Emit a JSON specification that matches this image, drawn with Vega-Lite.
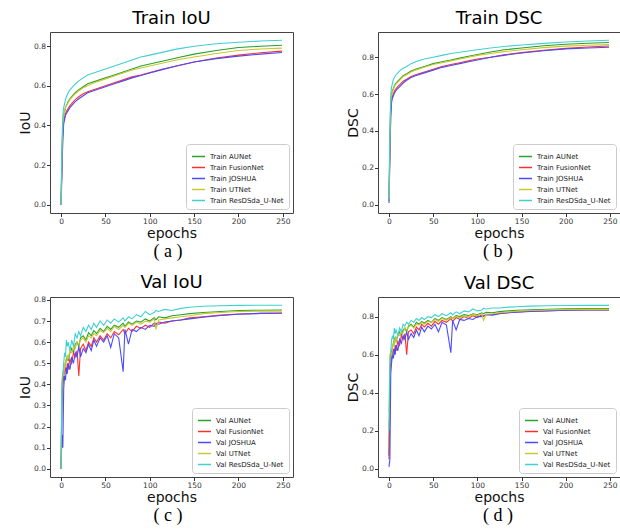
{
  "$schema": "https://vega.github.io/schema/vega-lite/v6.json",
  "padding": {"left": 18, "top": 9, "right": 0, "bottom": 0},
  "config": {
    "font": "DejaVu Sans",
    "view": {"stroke": "#444444", "strokeWidth": 1},
    "axis": {"domain": false, "grid": false, "tickColor": "#333333", "tickSize": 3.5, "labelFontSize": 7.5, "labelColor": "#333333", "labelPadding": 1, "titleFontSize": 14, "titleFontWeight": "normal", "titleColor": "#111111", "titlePadding": 1},
    "title": {"fontSize": 18, "fontWeight": "normal", "color": "#000000", "offset": 4},
    "legend": {"orient": "bottom-right", "offset": 4, "fillColor": "white", "strokeColor": "#cccccc", "padding": 5, "cornerRadius": 3, "labelFontSize": 7, "labelColor": "#222222", "symbolType": "stroke", "symbolSize": 169, "symbolStrokeWidth": 1.5, "rowPadding": 0, "labelOffset": 4, "title": null}
  },
  "data": {"values": [
{"p":"a","m":"AUNet","e":0,"v":0},{"p":"a","m":"AUNet","e":1,"v":0.25},{"p":"a","m":"AUNet","e":2,"v":0.40},{"p":"a","m":"AUNet","e":3,"v":0.45},{"p":"a","m":"AUNet","e":4,"v":0.47},{"p":"a","m":"AUNet","e":5,"v":0.49},{"p":"a","m":"AUNet","e":6,"v":0.50},{"p":"a","m":"AUNet","e":8,"v":0.52},{"p":"a","m":"AUNet","e":10,"v":0.535},{"p":"a","m":"AUNet","e":13,"v":0.55},{"p":"a","m":"AUNet","e":16,"v":0.565},{"p":"a","m":"AUNet","e":20,"v":0.58},{"p":"a","m":"AUNet","e":25,"v":0.595},{"p":"a","m":"AUNet","e":30,"v":0.61},{"p":"a","m":"AUNet","e":40,"v":0.625},{"p":"a","m":"AUNet","e":50,"v":0.64},{"p":"a","m":"AUNet","e":60,"v":0.655},{"p":"a","m":"AUNet","e":70,"v":0.67},{"p":"a","m":"AUNet","e":80,"v":0.685},{"p":"a","m":"AUNet","e":90,"v":0.70},{"p":"a","m":"AUNet","e":100,"v":0.71},{"p":"a","m":"AUNet","e":115,"v":0.725},{"p":"a","m":"AUNet","e":130,"v":0.74},{"p":"a","m":"AUNet","e":150,"v":0.76},{"p":"a","m":"AUNet","e":175,"v":0.778},{"p":"a","m":"AUNet","e":200,"v":0.793},{"p":"a","m":"AUNet","e":225,"v":0.80},{"p":"a","m":"AUNet","e":249,"v":0.805},
{"p":"a","m":"FusionNet","e":0,"v":0},{"p":"a","m":"FusionNet","e":1,"v":0.2},{"p":"a","m":"FusionNet","e":2,"v":0.36},{"p":"a","m":"FusionNet","e":3,"v":0.42},{"p":"a","m":"FusionNet","e":4,"v":0.44},{"p":"a","m":"FusionNet","e":5,"v":0.46},{"p":"a","m":"FusionNet","e":6,"v":0.47},{"p":"a","m":"FusionNet","e":8,"v":0.485},{"p":"a","m":"FusionNet","e":10,"v":0.50},{"p":"a","m":"FusionNet","e":13,"v":0.515},{"p":"a","m":"FusionNet","e":16,"v":0.53},{"p":"a","m":"FusionNet","e":20,"v":0.545},{"p":"a","m":"FusionNet","e":25,"v":0.56},{"p":"a","m":"FusionNet","e":30,"v":0.57},{"p":"a","m":"FusionNet","e":40,"v":0.585},{"p":"a","m":"FusionNet","e":50,"v":0.60},{"p":"a","m":"FusionNet","e":60,"v":0.615},{"p":"a","m":"FusionNet","e":70,"v":0.63},{"p":"a","m":"FusionNet","e":80,"v":0.645},{"p":"a","m":"FusionNet","e":90,"v":0.655},{"p":"a","m":"FusionNet","e":100,"v":0.667},{"p":"a","m":"FusionNet","e":115,"v":0.685},{"p":"a","m":"FusionNet","e":130,"v":0.70},{"p":"a","m":"FusionNet","e":150,"v":0.72},{"p":"a","m":"FusionNet","e":175,"v":0.74},{"p":"a","m":"FusionNet","e":200,"v":0.755},{"p":"a","m":"FusionNet","e":225,"v":0.767},{"p":"a","m":"FusionNet","e":249,"v":0.775},
{"p":"a","m":"JOSHUA","e":0,"v":0},{"p":"a","m":"JOSHUA","e":1,"v":0.15},{"p":"a","m":"JOSHUA","e":2,"v":0.33},{"p":"a","m":"JOSHUA","e":3,"v":0.41},{"p":"a","m":"JOSHUA","e":4,"v":0.43},{"p":"a","m":"JOSHUA","e":5,"v":0.45},{"p":"a","m":"JOSHUA","e":6,"v":0.46},{"p":"a","m":"JOSHUA","e":8,"v":0.475},{"p":"a","m":"JOSHUA","e":10,"v":0.49},{"p":"a","m":"JOSHUA","e":13,"v":0.505},{"p":"a","m":"JOSHUA","e":16,"v":0.52},{"p":"a","m":"JOSHUA","e":20,"v":0.535},{"p":"a","m":"JOSHUA","e":25,"v":0.55},{"p":"a","m":"JOSHUA","e":30,"v":0.565},{"p":"a","m":"JOSHUA","e":40,"v":0.58},{"p":"a","m":"JOSHUA","e":50,"v":0.595},{"p":"a","m":"JOSHUA","e":60,"v":0.61},{"p":"a","m":"JOSHUA","e":70,"v":0.625},{"p":"a","m":"JOSHUA","e":80,"v":0.64},{"p":"a","m":"JOSHUA","e":90,"v":0.652},{"p":"a","m":"JOSHUA","e":100,"v":0.665},{"p":"a","m":"JOSHUA","e":115,"v":0.683},{"p":"a","m":"JOSHUA","e":130,"v":0.70},{"p":"a","m":"JOSHUA","e":150,"v":0.72},{"p":"a","m":"JOSHUA","e":175,"v":0.737},{"p":"a","m":"JOSHUA","e":200,"v":0.75},{"p":"a","m":"JOSHUA","e":225,"v":0.76},{"p":"a","m":"JOSHUA","e":249,"v":0.768},
{"p":"a","m":"UTNet","e":0,"v":0},{"p":"a","m":"UTNet","e":1,"v":0.28},{"p":"a","m":"UTNet","e":2,"v":0.41},{"p":"a","m":"UTNet","e":3,"v":0.45},{"p":"a","m":"UTNet","e":4,"v":0.47},{"p":"a","m":"UTNet","e":5,"v":0.49},{"p":"a","m":"UTNet","e":6,"v":0.50},{"p":"a","m":"UTNet","e":8,"v":0.515},{"p":"a","m":"UTNet","e":10,"v":0.53},{"p":"a","m":"UTNet","e":13,"v":0.545},{"p":"a","m":"UTNet","e":16,"v":0.56},{"p":"a","m":"UTNet","e":20,"v":0.575},{"p":"a","m":"UTNet","e":25,"v":0.59},{"p":"a","m":"UTNet","e":30,"v":0.60},{"p":"a","m":"UTNet","e":40,"v":0.62},{"p":"a","m":"UTNet","e":50,"v":0.635},{"p":"a","m":"UTNet","e":60,"v":0.65},{"p":"a","m":"UTNet","e":70,"v":0.665},{"p":"a","m":"UTNet","e":80,"v":0.68},{"p":"a","m":"UTNet","e":90,"v":0.69},{"p":"a","m":"UTNet","e":100,"v":0.70},{"p":"a","m":"UTNet","e":115,"v":0.715},{"p":"a","m":"UTNet","e":130,"v":0.73},{"p":"a","m":"UTNet","e":150,"v":0.745},{"p":"a","m":"UTNet","e":175,"v":0.763},{"p":"a","m":"UTNet","e":200,"v":0.778},{"p":"a","m":"UTNet","e":225,"v":0.786},{"p":"a","m":"UTNet","e":249,"v":0.79},
{"p":"a","m":"ResDSda_U-Net","e":0,"v":0},{"p":"a","m":"ResDSda_U-Net","e":1,"v":0.3},{"p":"a","m":"ResDSda_U-Net","e":2,"v":0.45},{"p":"a","m":"ResDSda_U-Net","e":3,"v":0.49},{"p":"a","m":"ResDSda_U-Net","e":4,"v":0.51},{"p":"a","m":"ResDSda_U-Net","e":5,"v":0.53},{"p":"a","m":"ResDSda_U-Net","e":6,"v":0.545},{"p":"a","m":"ResDSda_U-Net","e":8,"v":0.565},{"p":"a","m":"ResDSda_U-Net","e":10,"v":0.58},{"p":"a","m":"ResDSda_U-Net","e":13,"v":0.595},{"p":"a","m":"ResDSda_U-Net","e":16,"v":0.61},{"p":"a","m":"ResDSda_U-Net","e":20,"v":0.625},{"p":"a","m":"ResDSda_U-Net","e":25,"v":0.64},{"p":"a","m":"ResDSda_U-Net","e":30,"v":0.655},{"p":"a","m":"ResDSda_U-Net","e":40,"v":0.67},{"p":"a","m":"ResDSda_U-Net","e":50,"v":0.685},{"p":"a","m":"ResDSda_U-Net","e":60,"v":0.70},{"p":"a","m":"ResDSda_U-Net","e":70,"v":0.715},{"p":"a","m":"ResDSda_U-Net","e":80,"v":0.73},{"p":"a","m":"ResDSda_U-Net","e":90,"v":0.745},{"p":"a","m":"ResDSda_U-Net","e":100,"v":0.755},{"p":"a","m":"ResDSda_U-Net","e":115,"v":0.77},{"p":"a","m":"ResDSda_U-Net","e":130,"v":0.785},{"p":"a","m":"ResDSda_U-Net","e":150,"v":0.80},{"p":"a","m":"ResDSda_U-Net","e":175,"v":0.812},{"p":"a","m":"ResDSda_U-Net","e":200,"v":0.82},{"p":"a","m":"ResDSda_U-Net","e":225,"v":0.826},{"p":"a","m":"ResDSda_U-Net","e":249,"v":0.83},
{"p":"b","m":"AUNet","e":0,"v":0.02},{"p":"b","m":"AUNet","e":1,"v":0.35},{"p":"b","m":"AUNet","e":2,"v":0.55},{"p":"b","m":"AUNet","e":3,"v":0.60},{"p":"b","m":"AUNet","e":4,"v":0.62},{"p":"b","m":"AUNet","e":5,"v":0.63},{"p":"b","m":"AUNet","e":6,"v":0.645},{"p":"b","m":"AUNet","e":8,"v":0.66},{"p":"b","m":"AUNet","e":10,"v":0.67},{"p":"b","m":"AUNet","e":13,"v":0.685},{"p":"b","m":"AUNet","e":16,"v":0.70},{"p":"b","m":"AUNet","e":20,"v":0.71},{"p":"b","m":"AUNet","e":25,"v":0.725},{"p":"b","m":"AUNet","e":30,"v":0.735},{"p":"b","m":"AUNet","e":40,"v":0.75},{"p":"b","m":"AUNet","e":50,"v":0.765},{"p":"b","m":"AUNet","e":60,"v":0.775},{"p":"b","m":"AUNet","e":70,"v":0.785},{"p":"b","m":"AUNet","e":80,"v":0.795},{"p":"b","m":"AUNet","e":90,"v":0.805},{"p":"b","m":"AUNet","e":100,"v":0.815},{"p":"b","m":"AUNet","e":115,"v":0.828},{"p":"b","m":"AUNet","e":130,"v":0.84},{"p":"b","m":"AUNet","e":150,"v":0.85},{"p":"b","m":"AUNet","e":175,"v":0.862},{"p":"b","m":"AUNet","e":200,"v":0.87},{"p":"b","m":"AUNet","e":225,"v":0.876},{"p":"b","m":"AUNet","e":249,"v":0.88},
{"p":"b","m":"FusionNet","e":0,"v":0.02},{"p":"b","m":"FusionNet","e":1,"v":0.3},{"p":"b","m":"FusionNet","e":2,"v":0.5},{"p":"b","m":"FusionNet","e":3,"v":0.57},{"p":"b","m":"FusionNet","e":4,"v":0.59},{"p":"b","m":"FusionNet","e":5,"v":0.60},{"p":"b","m":"FusionNet","e":6,"v":0.615},{"p":"b","m":"FusionNet","e":8,"v":0.63},{"p":"b","m":"FusionNet","e":10,"v":0.64},{"p":"b","m":"FusionNet","e":13,"v":0.655},{"p":"b","m":"FusionNet","e":16,"v":0.67},{"p":"b","m":"FusionNet","e":20,"v":0.68},{"p":"b","m":"FusionNet","e":25,"v":0.695},{"p":"b","m":"FusionNet","e":30,"v":0.705},{"p":"b","m":"FusionNet","e":40,"v":0.72},{"p":"b","m":"FusionNet","e":50,"v":0.735},{"p":"b","m":"FusionNet","e":60,"v":0.75},{"p":"b","m":"FusionNet","e":70,"v":0.76},{"p":"b","m":"FusionNet","e":80,"v":0.77},{"p":"b","m":"FusionNet","e":90,"v":0.78},{"p":"b","m":"FusionNet","e":100,"v":0.79},{"p":"b","m":"FusionNet","e":115,"v":0.80},{"p":"b","m":"FusionNet","e":130,"v":0.813},{"p":"b","m":"FusionNet","e":150,"v":0.825},{"p":"b","m":"FusionNet","e":175,"v":0.838},{"p":"b","m":"FusionNet","e":200,"v":0.848},{"p":"b","m":"FusionNet","e":225,"v":0.855},{"p":"b","m":"FusionNet","e":249,"v":0.861},
{"p":"b","m":"JOSHUA","e":0,"v":0.01},{"p":"b","m":"JOSHUA","e":1,"v":0.25},{"p":"b","m":"JOSHUA","e":2,"v":0.48},{"p":"b","m":"JOSHUA","e":3,"v":0.56},{"p":"b","m":"JOSHUA","e":4,"v":0.58},{"p":"b","m":"JOSHUA","e":5,"v":0.59},{"p":"b","m":"JOSHUA","e":6,"v":0.605},{"p":"b","m":"JOSHUA","e":8,"v":0.62},{"p":"b","m":"JOSHUA","e":10,"v":0.63},{"p":"b","m":"JOSHUA","e":13,"v":0.645},{"p":"b","m":"JOSHUA","e":16,"v":0.66},{"p":"b","m":"JOSHUA","e":20,"v":0.675},{"p":"b","m":"JOSHUA","e":25,"v":0.69},{"p":"b","m":"JOSHUA","e":30,"v":0.70},{"p":"b","m":"JOSHUA","e":40,"v":0.715},{"p":"b","m":"JOSHUA","e":50,"v":0.73},{"p":"b","m":"JOSHUA","e":60,"v":0.745},{"p":"b","m":"JOSHUA","e":70,"v":0.755},{"p":"b","m":"JOSHUA","e":80,"v":0.765},{"p":"b","m":"JOSHUA","e":90,"v":0.775},{"p":"b","m":"JOSHUA","e":100,"v":0.785},{"p":"b","m":"JOSHUA","e":115,"v":0.80},{"p":"b","m":"JOSHUA","e":130,"v":0.81},{"p":"b","m":"JOSHUA","e":150,"v":0.823},{"p":"b","m":"JOSHUA","e":175,"v":0.835},{"p":"b","m":"JOSHUA","e":200,"v":0.845},{"p":"b","m":"JOSHUA","e":225,"v":0.85},{"p":"b","m":"JOSHUA","e":249,"v":0.854},
{"p":"b","m":"UTNet","e":0,"v":0.03},{"p":"b","m":"UTNet","e":1,"v":0.38},{"p":"b","m":"UTNet","e":2,"v":0.56},{"p":"b","m":"UTNet","e":3,"v":0.60},{"p":"b","m":"UTNet","e":4,"v":0.615},{"p":"b","m":"UTNet","e":5,"v":0.625},{"p":"b","m":"UTNet","e":6,"v":0.64},{"p":"b","m":"UTNet","e":8,"v":0.655},{"p":"b","m":"UTNet","e":10,"v":0.665},{"p":"b","m":"UTNet","e":13,"v":0.68},{"p":"b","m":"UTNet","e":16,"v":0.695},{"p":"b","m":"UTNet","e":20,"v":0.705},{"p":"b","m":"UTNet","e":25,"v":0.72},{"p":"b","m":"UTNet","e":30,"v":0.73},{"p":"b","m":"UTNet","e":40,"v":0.745},{"p":"b","m":"UTNet","e":50,"v":0.76},{"p":"b","m":"UTNet","e":60,"v":0.77},{"p":"b","m":"UTNet","e":70,"v":0.78},{"p":"b","m":"UTNet","e":80,"v":0.79},{"p":"b","m":"UTNet","e":90,"v":0.80},{"p":"b","m":"UTNet","e":100,"v":0.81},{"p":"b","m":"UTNet","e":115,"v":0.82},{"p":"b","m":"UTNet","e":130,"v":0.83},{"p":"b","m":"UTNet","e":150,"v":0.84},{"p":"b","m":"UTNet","e":175,"v":0.852},{"p":"b","m":"UTNet","e":200,"v":0.86},{"p":"b","m":"UTNet","e":225,"v":0.865},{"p":"b","m":"UTNet","e":249,"v":0.868},
{"p":"b","m":"ResDSda_U-Net","e":0,"v":0.02},{"p":"b","m":"ResDSda_U-Net","e":1,"v":0.40},{"p":"b","m":"ResDSda_U-Net","e":2,"v":0.60},{"p":"b","m":"ResDSda_U-Net","e":3,"v":0.64},{"p":"b","m":"ResDSda_U-Net","e":4,"v":0.66},{"p":"b","m":"ResDSda_U-Net","e":5,"v":0.68},{"p":"b","m":"ResDSda_U-Net","e":6,"v":0.69},{"p":"b","m":"ResDSda_U-Net","e":8,"v":0.705},{"p":"b","m":"ResDSda_U-Net","e":10,"v":0.715},{"p":"b","m":"ResDSda_U-Net","e":13,"v":0.73},{"p":"b","m":"ResDSda_U-Net","e":16,"v":0.74},{"p":"b","m":"ResDSda_U-Net","e":20,"v":0.75},{"p":"b","m":"ResDSda_U-Net","e":25,"v":0.765},{"p":"b","m":"ResDSda_U-Net","e":30,"v":0.775},{"p":"b","m":"ResDSda_U-Net","e":40,"v":0.79},{"p":"b","m":"ResDSda_U-Net","e":50,"v":0.80},{"p":"b","m":"ResDSda_U-Net","e":60,"v":0.81},{"p":"b","m":"ResDSda_U-Net","e":70,"v":0.82},{"p":"b","m":"ResDSda_U-Net","e":80,"v":0.827},{"p":"b","m":"ResDSda_U-Net","e":90,"v":0.834},{"p":"b","m":"ResDSda_U-Net","e":100,"v":0.84},{"p":"b","m":"ResDSda_U-Net","e":115,"v":0.85},{"p":"b","m":"ResDSda_U-Net","e":130,"v":0.858},{"p":"b","m":"ResDSda_U-Net","e":150,"v":0.866},{"p":"b","m":"ResDSda_U-Net","e":175,"v":0.875},{"p":"b","m":"ResDSda_U-Net","e":200,"v":0.882},{"p":"b","m":"ResDSda_U-Net","e":225,"v":0.888},{"p":"b","m":"ResDSda_U-Net","e":249,"v":0.892},
{"p":"c","m":"AUNet","e":0,"v":0},{"p":"c","m":"AUNet","e":1,"v":0.30},{"p":"c","m":"AUNet","e":2,"v":0.42},{"p":"c","m":"AUNet","e":3,"v":0.46},{"p":"c","m":"AUNet","e":4,"v":0.48},{"p":"c","m":"AUNet","e":5,"v":0.50},{"p":"c","m":"AUNet","e":6,"v":0.52},{"p":"c","m":"AUNet","e":7,"v":0.53},{"p":"c","m":"AUNet","e":8,"v":0.51},{"p":"c","m":"AUNet","e":10,"v":0.55},{"p":"c","m":"AUNet","e":12,"v":0.57},{"p":"c","m":"AUNet","e":14,"v":0.55},{"p":"c","m":"AUNet","e":16,"v":0.59},{"p":"c","m":"AUNet","e":18,"v":0.60},{"p":"c","m":"AUNet","e":20,"v":0.58},{"p":"c","m":"AUNet","e":22,"v":0.62},{"p":"c","m":"AUNet","e":25,"v":0.63},{"p":"c","m":"AUNet","e":28,"v":0.61},{"p":"c","m":"AUNet","e":31,"v":0.645},{"p":"c","m":"AUNet","e":34,"v":0.63},{"p":"c","m":"AUNet","e":37,"v":0.655},{"p":"c","m":"AUNet","e":40,"v":0.64},{"p":"c","m":"AUNet","e":44,"v":0.665},{"p":"c","m":"AUNet","e":48,"v":0.65},{"p":"c","m":"AUNet","e":52,"v":0.675},{"p":"c","m":"AUNet","e":56,"v":0.66},{"p":"c","m":"AUNet","e":60,"v":0.68},{"p":"c","m":"AUNet","e":65,"v":0.67},{"p":"c","m":"AUNet","e":70,"v":0.69},{"p":"c","m":"AUNet","e":72,"v":0.675},{"p":"c","m":"AUNet","e":76,"v":0.695},{"p":"c","m":"AUNet","e":80,"v":0.685},{"p":"c","m":"AUNet","e":85,"v":0.70},{"p":"c","m":"AUNet","e":90,"v":0.695},{"p":"c","m":"AUNet","e":95,"v":0.71},{"p":"c","m":"AUNet","e":100,"v":0.70},{"p":"c","m":"AUNet","e":105,"v":0.715},{"p":"c","m":"AUNet","e":107,"v":0.705},{"p":"c","m":"AUNet","e":110,"v":0.72},{"p":"c","m":"AUNet","e":117,"v":0.715},{"p":"c","m":"AUNet","e":125,"v":0.725},{"p":"c","m":"AUNet","e":135,"v":0.73},{"p":"c","m":"AUNet","e":145,"v":0.735},{"p":"c","m":"AUNet","e":160,"v":0.74},{"p":"c","m":"AUNet","e":180,"v":0.745},{"p":"c","m":"AUNet","e":200,"v":0.75},{"p":"c","m":"AUNet","e":225,"v":0.751},{"p":"c","m":"AUNet","e":249,"v":0.752},
{"p":"c","m":"FusionNet","e":0,"v":0},{"p":"c","m":"FusionNet","e":1,"v":0.38},{"p":"c","m":"FusionNet","e":2,"v":0.40},{"p":"c","m":"FusionNet","e":3,"v":0.43},{"p":"c","m":"FusionNet","e":4,"v":0.46},{"p":"c","m":"FusionNet","e":5,"v":0.48},{"p":"c","m":"FusionNet","e":6,"v":0.45},{"p":"c","m":"FusionNet","e":7,"v":0.50},{"p":"c","m":"FusionNet","e":8,"v":0.47},{"p":"c","m":"FusionNet","e":10,"v":0.52},{"p":"c","m":"FusionNet","e":12,"v":0.50},{"p":"c","m":"FusionNet","e":14,"v":0.55},{"p":"c","m":"FusionNet","e":16,"v":0.53},{"p":"c","m":"FusionNet","e":18,"v":0.56},{"p":"c","m":"FusionNet","e":20,"v":0.44},{"p":"c","m":"FusionNet","e":22,"v":0.57},{"p":"c","m":"FusionNet","e":25,"v":0.59},{"p":"c","m":"FusionNet","e":28,"v":0.56},{"p":"c","m":"FusionNet","e":31,"v":0.60},{"p":"c","m":"FusionNet","e":34,"v":0.58},{"p":"c","m":"FusionNet","e":37,"v":0.62},{"p":"c","m":"FusionNet","e":40,"v":0.60},{"p":"c","m":"FusionNet","e":44,"v":0.63},{"p":"c","m":"FusionNet","e":48,"v":0.61},{"p":"c","m":"FusionNet","e":52,"v":0.64},{"p":"c","m":"FusionNet","e":56,"v":0.62},{"p":"c","m":"FusionNet","e":60,"v":0.65},{"p":"c","m":"FusionNet","e":65,"v":0.635},{"p":"c","m":"FusionNet","e":70,"v":0.66},{"p":"c","m":"FusionNet","e":72,"v":0.64},{"p":"c","m":"FusionNet","e":76,"v":0.665},{"p":"c","m":"FusionNet","e":80,"v":0.65},{"p":"c","m":"FusionNet","e":85,"v":0.675},{"p":"c","m":"FusionNet","e":90,"v":0.665},{"p":"c","m":"FusionNet","e":95,"v":0.68},{"p":"c","m":"FusionNet","e":100,"v":0.67},{"p":"c","m":"FusionNet","e":105,"v":0.69},{"p":"c","m":"FusionNet","e":107,"v":0.68},{"p":"c","m":"FusionNet","e":110,"v":0.695},{"p":"c","m":"FusionNet","e":117,"v":0.69},{"p":"c","m":"FusionNet","e":125,"v":0.70},{"p":"c","m":"FusionNet","e":135,"v":0.705},{"p":"c","m":"FusionNet","e":145,"v":0.715},{"p":"c","m":"FusionNet","e":160,"v":0.72},{"p":"c","m":"FusionNet","e":180,"v":0.728},{"p":"c","m":"FusionNet","e":200,"v":0.733},{"p":"c","m":"FusionNet","e":225,"v":0.736},{"p":"c","m":"FusionNet","e":249,"v":0.737},
{"p":"c","m":"JOSHUA","e":0,"v":0},{"p":"c","m":"JOSHUA","e":1,"v":0.16},{"p":"c","m":"JOSHUA","e":2,"v":0.10},{"p":"c","m":"JOSHUA","e":3,"v":0.38},{"p":"c","m":"JOSHUA","e":4,"v":0.44},{"p":"c","m":"JOSHUA","e":5,"v":0.42},{"p":"c","m":"JOSHUA","e":6,"v":0.48},{"p":"c","m":"JOSHUA","e":7,"v":0.45},{"p":"c","m":"JOSHUA","e":8,"v":0.50},{"p":"c","m":"JOSHUA","e":10,"v":0.47},{"p":"c","m":"JOSHUA","e":12,"v":0.53},{"p":"c","m":"JOSHUA","e":14,"v":0.50},{"p":"c","m":"JOSHUA","e":16,"v":0.55},{"p":"c","m":"JOSHUA","e":18,"v":0.53},{"p":"c","m":"JOSHUA","e":20,"v":0.58},{"p":"c","m":"JOSHUA","e":22,"v":0.53},{"p":"c","m":"JOSHUA","e":25,"v":0.57},{"p":"c","m":"JOSHUA","e":28,"v":0.55},{"p":"c","m":"JOSHUA","e":31,"v":0.59},{"p":"c","m":"JOSHUA","e":34,"v":0.56},{"p":"c","m":"JOSHUA","e":37,"v":0.61},{"p":"c","m":"JOSHUA","e":40,"v":0.58},{"p":"c","m":"JOSHUA","e":44,"v":0.62},{"p":"c","m":"JOSHUA","e":48,"v":0.60},{"p":"c","m":"JOSHUA","e":52,"v":0.63},{"p":"c","m":"JOSHUA","e":56,"v":0.575},{"p":"c","m":"JOSHUA","e":60,"v":0.64},{"p":"c","m":"JOSHUA","e":65,"v":0.62},{"p":"c","m":"JOSHUA","e":70,"v":0.46},{"p":"c","m":"JOSHUA","e":72,"v":0.66},{"p":"c","m":"JOSHUA","e":76,"v":0.59},{"p":"c","m":"JOSHUA","e":80,"v":0.66},{"p":"c","m":"JOSHUA","e":85,"v":0.65},{"p":"c","m":"JOSHUA","e":90,"v":0.67},{"p":"c","m":"JOSHUA","e":95,"v":0.66},{"p":"c","m":"JOSHUA","e":100,"v":0.68},{"p":"c","m":"JOSHUA","e":105,"v":0.675},{"p":"c","m":"JOSHUA","e":107,"v":0.69},{"p":"c","m":"JOSHUA","e":110,"v":0.685},{"p":"c","m":"JOSHUA","e":117,"v":0.695},{"p":"c","m":"JOSHUA","e":125,"v":0.70},{"p":"c","m":"JOSHUA","e":135,"v":0.705},{"p":"c","m":"JOSHUA","e":145,"v":0.71},{"p":"c","m":"JOSHUA","e":160,"v":0.718},{"p":"c","m":"JOSHUA","e":180,"v":0.726},{"p":"c","m":"JOSHUA","e":200,"v":0.732},{"p":"c","m":"JOSHUA","e":225,"v":0.736},{"p":"c","m":"JOSHUA","e":249,"v":0.738},
{"p":"c","m":"UTNet","e":0,"v":0},{"p":"c","m":"UTNet","e":1,"v":0.41},{"p":"c","m":"UTNet","e":2,"v":0.46},{"p":"c","m":"UTNet","e":3,"v":0.44},{"p":"c","m":"UTNet","e":4,"v":0.48},{"p":"c","m":"UTNet","e":5,"v":0.51},{"p":"c","m":"UTNet","e":6,"v":0.50},{"p":"c","m":"UTNet","e":7,"v":0.54},{"p":"c","m":"UTNet","e":8,"v":0.52},{"p":"c","m":"UTNet","e":10,"v":0.56},{"p":"c","m":"UTNet","e":12,"v":0.55},{"p":"c","m":"UTNet","e":14,"v":0.58},{"p":"c","m":"UTNet","e":16,"v":0.57},{"p":"c","m":"UTNet","e":18,"v":0.60},{"p":"c","m":"UTNet","e":20,"v":0.59},{"p":"c","m":"UTNet","e":22,"v":0.61},{"p":"c","m":"UTNet","e":25,"v":0.62},{"p":"c","m":"UTNet","e":28,"v":0.60},{"p":"c","m":"UTNet","e":31,"v":0.63},{"p":"c","m":"UTNet","e":34,"v":0.62},{"p":"c","m":"UTNet","e":37,"v":0.64},{"p":"c","m":"UTNet","e":40,"v":0.63},{"p":"c","m":"UTNet","e":44,"v":0.655},{"p":"c","m":"UTNet","e":48,"v":0.645},{"p":"c","m":"UTNet","e":52,"v":0.665},{"p":"c","m":"UTNet","e":56,"v":0.65},{"p":"c","m":"UTNet","e":60,"v":0.675},{"p":"c","m":"UTNet","e":65,"v":0.66},{"p":"c","m":"UTNet","e":70,"v":0.68},{"p":"c","m":"UTNet","e":72,"v":0.67},{"p":"c","m":"UTNet","e":76,"v":0.69},{"p":"c","m":"UTNet","e":80,"v":0.68},{"p":"c","m":"UTNet","e":85,"v":0.695},{"p":"c","m":"UTNet","e":90,"v":0.685},{"p":"c","m":"UTNet","e":95,"v":0.70},{"p":"c","m":"UTNet","e":100,"v":0.695},{"p":"c","m":"UTNet","e":105,"v":0.71},{"p":"c","m":"UTNet","e":107,"v":0.66},{"p":"c","m":"UTNet","e":110,"v":0.705},{"p":"c","m":"UTNet","e":117,"v":0.71},{"p":"c","m":"UTNet","e":125,"v":0.715},{"p":"c","m":"UTNet","e":135,"v":0.72},{"p":"c","m":"UTNet","e":145,"v":0.725},{"p":"c","m":"UTNet","e":160,"v":0.735},{"p":"c","m":"UTNet","e":180,"v":0.74},{"p":"c","m":"UTNet","e":200,"v":0.745},{"p":"c","m":"UTNet","e":225,"v":0.747},{"p":"c","m":"UTNet","e":249,"v":0.747},
{"p":"c","m":"ResDSda_U-Net","e":0,"v":0},{"p":"c","m":"ResDSda_U-Net","e":1,"v":0.40},{"p":"c","m":"ResDSda_U-Net","e":2,"v":0.45},{"p":"c","m":"ResDSda_U-Net","e":3,"v":0.50},{"p":"c","m":"ResDSda_U-Net","e":4,"v":0.55},{"p":"c","m":"ResDSda_U-Net","e":5,"v":0.53},{"p":"c","m":"ResDSda_U-Net","e":6,"v":0.61},{"p":"c","m":"ResDSda_U-Net","e":7,"v":0.58},{"p":"c","m":"ResDSda_U-Net","e":8,"v":0.60},{"p":"c","m":"ResDSda_U-Net","e":10,"v":0.56},{"p":"c","m":"ResDSda_U-Net","e":12,"v":0.61},{"p":"c","m":"ResDSda_U-Net","e":14,"v":0.58},{"p":"c","m":"ResDSda_U-Net","e":16,"v":0.64},{"p":"c","m":"ResDSda_U-Net","e":18,"v":0.62},{"p":"c","m":"ResDSda_U-Net","e":20,"v":0.65},{"p":"c","m":"ResDSda_U-Net","e":22,"v":0.63},{"p":"c","m":"ResDSda_U-Net","e":25,"v":0.67},{"p":"c","m":"ResDSda_U-Net","e":28,"v":0.65},{"p":"c","m":"ResDSda_U-Net","e":31,"v":0.68},{"p":"c","m":"ResDSda_U-Net","e":34,"v":0.66},{"p":"c","m":"ResDSda_U-Net","e":37,"v":0.69},{"p":"c","m":"ResDSda_U-Net","e":40,"v":0.67},{"p":"c","m":"ResDSda_U-Net","e":44,"v":0.70},{"p":"c","m":"ResDSda_U-Net","e":48,"v":0.68},{"p":"c","m":"ResDSda_U-Net","e":52,"v":0.705},{"p":"c","m":"ResDSda_U-Net","e":56,"v":0.69},{"p":"c","m":"ResDSda_U-Net","e":60,"v":0.71},{"p":"c","m":"ResDSda_U-Net","e":65,"v":0.695},{"p":"c","m":"ResDSda_U-Net","e":70,"v":0.715},{"p":"c","m":"ResDSda_U-Net","e":72,"v":0.70},{"p":"c","m":"ResDSda_U-Net","e":76,"v":0.72},{"p":"c","m":"ResDSda_U-Net","e":80,"v":0.71},{"p":"c","m":"ResDSda_U-Net","e":85,"v":0.73},{"p":"c","m":"ResDSda_U-Net","e":90,"v":0.72},{"p":"c","m":"ResDSda_U-Net","e":95,"v":0.745},{"p":"c","m":"ResDSda_U-Net","e":100,"v":0.73},{"p":"c","m":"ResDSda_U-Net","e":105,"v":0.74},{"p":"c","m":"ResDSda_U-Net","e":107,"v":0.75},{"p":"c","m":"ResDSda_U-Net","e":110,"v":0.745},{"p":"c","m":"ResDSda_U-Net","e":117,"v":0.755},{"p":"c","m":"ResDSda_U-Net","e":125,"v":0.75},{"p":"c","m":"ResDSda_U-Net","e":135,"v":0.76},{"p":"c","m":"ResDSda_U-Net","e":145,"v":0.765},{"p":"c","m":"ResDSda_U-Net","e":160,"v":0.77},{"p":"c","m":"ResDSda_U-Net","e":180,"v":0.772},{"p":"c","m":"ResDSda_U-Net","e":200,"v":0.774},{"p":"c","m":"ResDSda_U-Net","e":225,"v":0.775},{"p":"c","m":"ResDSda_U-Net","e":249,"v":0.775},
{"p":"d","m":"AUNet","e":0,"v":0.07},{"p":"d","m":"AUNet","e":1,"v":0.45},{"p":"d","m":"AUNet","e":2,"v":0.58},{"p":"d","m":"AUNet","e":3,"v":0.62},{"p":"d","m":"AUNet","e":4,"v":0.64},{"p":"d","m":"AUNet","e":5,"v":0.66},{"p":"d","m":"AUNet","e":6,"v":0.68},{"p":"d","m":"AUNet","e":7,"v":0.69},{"p":"d","m":"AUNet","e":8,"v":0.67},{"p":"d","m":"AUNet","e":10,"v":0.70},{"p":"d","m":"AUNet","e":12,"v":0.72},{"p":"d","m":"AUNet","e":14,"v":0.70},{"p":"d","m":"AUNet","e":16,"v":0.73},{"p":"d","m":"AUNet","e":18,"v":0.74},{"p":"d","m":"AUNet","e":20,"v":0.72},{"p":"d","m":"AUNet","e":22,"v":0.75},{"p":"d","m":"AUNet","e":25,"v":0.76},{"p":"d","m":"AUNet","e":28,"v":0.745},{"p":"d","m":"AUNet","e":31,"v":0.77},{"p":"d","m":"AUNet","e":34,"v":0.76},{"p":"d","m":"AUNet","e":37,"v":0.775},{"p":"d","m":"AUNet","e":40,"v":0.765},{"p":"d","m":"AUNet","e":44,"v":0.78},{"p":"d","m":"AUNet","e":48,"v":0.77},{"p":"d","m":"AUNet","e":52,"v":0.79},{"p":"d","m":"AUNet","e":56,"v":0.78},{"p":"d","m":"AUNet","e":60,"v":0.795},{"p":"d","m":"AUNet","e":65,"v":0.785},{"p":"d","m":"AUNet","e":70,"v":0.80},{"p":"d","m":"AUNet","e":72,"v":0.79},{"p":"d","m":"AUNet","e":76,"v":0.805},{"p":"d","m":"AUNet","e":80,"v":0.80},{"p":"d","m":"AUNet","e":85,"v":0.81},{"p":"d","m":"AUNet","e":90,"v":0.805},{"p":"d","m":"AUNet","e":95,"v":0.815},{"p":"d","m":"AUNet","e":100,"v":0.81},{"p":"d","m":"AUNet","e":105,"v":0.82},{"p":"d","m":"AUNet","e":107,"v":0.815},{"p":"d","m":"AUNet","e":110,"v":0.823},{"p":"d","m":"AUNet","e":117,"v":0.82},{"p":"d","m":"AUNet","e":125,"v":0.826},{"p":"d","m":"AUNet","e":135,"v":0.83},{"p":"d","m":"AUNet","e":145,"v":0.833},{"p":"d","m":"AUNet","e":160,"v":0.836},{"p":"d","m":"AUNet","e":180,"v":0.839},{"p":"d","m":"AUNet","e":200,"v":0.841},{"p":"d","m":"AUNet","e":225,"v":0.842},{"p":"d","m":"AUNet","e":249,"v":0.842},
{"p":"d","m":"FusionNet","e":0,"v":0.05},{"p":"d","m":"FusionNet","e":1,"v":0.50},{"p":"d","m":"FusionNet","e":2,"v":0.55},{"p":"d","m":"FusionNet","e":3,"v":0.58},{"p":"d","m":"FusionNet","e":4,"v":0.61},{"p":"d","m":"FusionNet","e":5,"v":0.63},{"p":"d","m":"FusionNet","e":6,"v":0.60},{"p":"d","m":"FusionNet","e":7,"v":0.65},{"p":"d","m":"FusionNet","e":8,"v":0.62},{"p":"d","m":"FusionNet","e":10,"v":0.67},{"p":"d","m":"FusionNet","e":12,"v":0.65},{"p":"d","m":"FusionNet","e":14,"v":0.70},{"p":"d","m":"FusionNet","e":16,"v":0.68},{"p":"d","m":"FusionNet","e":18,"v":0.71},{"p":"d","m":"FusionNet","e":20,"v":0.60},{"p":"d","m":"FusionNet","e":22,"v":0.72},{"p":"d","m":"FusionNet","e":25,"v":0.73},{"p":"d","m":"FusionNet","e":28,"v":0.71},{"p":"d","m":"FusionNet","e":31,"v":0.745},{"p":"d","m":"FusionNet","e":34,"v":0.73},{"p":"d","m":"FusionNet","e":37,"v":0.76},{"p":"d","m":"FusionNet","e":40,"v":0.745},{"p":"d","m":"FusionNet","e":44,"v":0.765},{"p":"d","m":"FusionNet","e":48,"v":0.75},{"p":"d","m":"FusionNet","e":52,"v":0.775},{"p":"d","m":"FusionNet","e":56,"v":0.76},{"p":"d","m":"FusionNet","e":60,"v":0.78},{"p":"d","m":"FusionNet","e":65,"v":0.77},{"p":"d","m":"FusionNet","e":70,"v":0.79},{"p":"d","m":"FusionNet","e":72,"v":0.775},{"p":"d","m":"FusionNet","e":76,"v":0.795},{"p":"d","m":"FusionNet","e":80,"v":0.785},{"p":"d","m":"FusionNet","e":85,"v":0.80},{"p":"d","m":"FusionNet","e":90,"v":0.79},{"p":"d","m":"FusionNet","e":95,"v":0.805},{"p":"d","m":"FusionNet","e":100,"v":0.795},{"p":"d","m":"FusionNet","e":105,"v":0.81},{"p":"d","m":"FusionNet","e":107,"v":0.80},{"p":"d","m":"FusionNet","e":110,"v":0.812},{"p":"d","m":"FusionNet","e":117,"v":0.81},{"p":"d","m":"FusionNet","e":125,"v":0.817},{"p":"d","m":"FusionNet","e":135,"v":0.82},{"p":"d","m":"FusionNet","e":145,"v":0.825},{"p":"d","m":"FusionNet","e":160,"v":0.828},{"p":"d","m":"FusionNet","e":180,"v":0.831},{"p":"d","m":"FusionNet","e":200,"v":0.833},{"p":"d","m":"FusionNet","e":225,"v":0.835},{"p":"d","m":"FusionNet","e":249,"v":0.835},
{"p":"d","m":"JOSHUA","e":0,"v":0.01},{"p":"d","m":"JOSHUA","e":1,"v":0.05},{"p":"d","m":"JOSHUA","e":2,"v":0.50},{"p":"d","m":"JOSHUA","e":3,"v":0.56},{"p":"d","m":"JOSHUA","e":4,"v":0.60},{"p":"d","m":"JOSHUA","e":5,"v":0.58},{"p":"d","m":"JOSHUA","e":6,"v":0.63},{"p":"d","m":"JOSHUA","e":7,"v":0.60},{"p":"d","m":"JOSHUA","e":8,"v":0.65},{"p":"d","m":"JOSHUA","e":10,"v":0.62},{"p":"d","m":"JOSHUA","e":12,"v":0.68},{"p":"d","m":"JOSHUA","e":14,"v":0.66},{"p":"d","m":"JOSHUA","e":16,"v":0.70},{"p":"d","m":"JOSHUA","e":18,"v":0.68},{"p":"d","m":"JOSHUA","e":20,"v":0.72},{"p":"d","m":"JOSHUA","e":22,"v":0.68},{"p":"d","m":"JOSHUA","e":25,"v":0.71},{"p":"d","m":"JOSHUA","e":28,"v":0.69},{"p":"d","m":"JOSHUA","e":31,"v":0.73},{"p":"d","m":"JOSHUA","e":34,"v":0.70},{"p":"d","m":"JOSHUA","e":37,"v":0.745},{"p":"d","m":"JOSHUA","e":40,"v":0.72},{"p":"d","m":"JOSHUA","e":44,"v":0.75},{"p":"d","m":"JOSHUA","e":48,"v":0.735},{"p":"d","m":"JOSHUA","e":52,"v":0.76},{"p":"d","m":"JOSHUA","e":56,"v":0.72},{"p":"d","m":"JOSHUA","e":60,"v":0.77},{"p":"d","m":"JOSHUA","e":65,"v":0.755},{"p":"d","m":"JOSHUA","e":70,"v":0.61},{"p":"d","m":"JOSHUA","e":72,"v":0.78},{"p":"d","m":"JOSHUA","e":76,"v":0.73},{"p":"d","m":"JOSHUA","e":80,"v":0.785},{"p":"d","m":"JOSHUA","e":85,"v":0.78},{"p":"d","m":"JOSHUA","e":90,"v":0.79},{"p":"d","m":"JOSHUA","e":95,"v":0.785},{"p":"d","m":"JOSHUA","e":100,"v":0.80},{"p":"d","m":"JOSHUA","e":105,"v":0.80},{"p":"d","m":"JOSHUA","e":107,"v":0.805},{"p":"d","m":"JOSHUA","e":110,"v":0.81},{"p":"d","m":"JOSHUA","e":117,"v":0.808},{"p":"d","m":"JOSHUA","e":125,"v":0.815},{"p":"d","m":"JOSHUA","e":135,"v":0.82},{"p":"d","m":"JOSHUA","e":145,"v":0.823},{"p":"d","m":"JOSHUA","e":160,"v":0.827},{"p":"d","m":"JOSHUA","e":180,"v":0.83},{"p":"d","m":"JOSHUA","e":200,"v":0.833},{"p":"d","m":"JOSHUA","e":225,"v":0.835},{"p":"d","m":"JOSHUA","e":249,"v":0.835},
{"p":"d","m":"UTNet","e":0,"v":0.3},{"p":"d","m":"UTNet","e":1,"v":0.60},{"p":"d","m":"UTNet","e":2,"v":0.61},{"p":"d","m":"UTNet","e":3,"v":0.60},{"p":"d","m":"UTNet","e":4,"v":0.64},{"p":"d","m":"UTNet","e":5,"v":0.66},{"p":"d","m":"UTNet","e":6,"v":0.65},{"p":"d","m":"UTNet","e":7,"v":0.69},{"p":"d","m":"UTNet","e":8,"v":0.67},{"p":"d","m":"UTNet","e":10,"v":0.71},{"p":"d","m":"UTNet","e":12,"v":0.70},{"p":"d","m":"UTNet","e":14,"v":0.72},{"p":"d","m":"UTNet","e":16,"v":0.715},{"p":"d","m":"UTNet","e":18,"v":0.74},{"p":"d","m":"UTNet","e":20,"v":0.73},{"p":"d","m":"UTNet","e":22,"v":0.745},{"p":"d","m":"UTNet","e":25,"v":0.755},{"p":"d","m":"UTNet","e":28,"v":0.74},{"p":"d","m":"UTNet","e":31,"v":0.76},{"p":"d","m":"UTNet","e":34,"v":0.755},{"p":"d","m":"UTNet","e":37,"v":0.77},{"p":"d","m":"UTNet","e":40,"v":0.76},{"p":"d","m":"UTNet","e":44,"v":0.775},{"p":"d","m":"UTNet","e":48,"v":0.77},{"p":"d","m":"UTNet","e":52,"v":0.785},{"p":"d","m":"UTNet","e":56,"v":0.775},{"p":"d","m":"UTNet","e":60,"v":0.79},{"p":"d","m":"UTNet","e":65,"v":0.78},{"p":"d","m":"UTNet","e":70,"v":0.795},{"p":"d","m":"UTNet","e":72,"v":0.79},{"p":"d","m":"UTNet","e":76,"v":0.80},{"p":"d","m":"UTNet","e":80,"v":0.795},{"p":"d","m":"UTNet","e":85,"v":0.805},{"p":"d","m":"UTNet","e":90,"v":0.80},{"p":"d","m":"UTNet","e":95,"v":0.81},{"p":"d","m":"UTNet","e":100,"v":0.805},{"p":"d","m":"UTNet","e":105,"v":0.815},{"p":"d","m":"UTNet","e":107,"v":0.78},{"p":"d","m":"UTNet","e":110,"v":0.812},{"p":"d","m":"UTNet","e":117,"v":0.815},{"p":"d","m":"UTNet","e":125,"v":0.82},{"p":"d","m":"UTNet","e":135,"v":0.825},{"p":"d","m":"UTNet","e":145,"v":0.828},{"p":"d","m":"UTNet","e":160,"v":0.832},{"p":"d","m":"UTNet","e":180,"v":0.835},{"p":"d","m":"UTNet","e":200,"v":0.837},{"p":"d","m":"UTNet","e":225,"v":0.838},{"p":"d","m":"UTNet","e":249,"v":0.838},
{"p":"d","m":"ResDSda_U-Net","e":0,"v":0.2},{"p":"d","m":"ResDSda_U-Net","e":1,"v":0.55},{"p":"d","m":"ResDSda_U-Net","e":2,"v":0.62},{"p":"d","m":"ResDSda_U-Net","e":3,"v":0.68},{"p":"d","m":"ResDSda_U-Net","e":4,"v":0.70},{"p":"d","m":"ResDSda_U-Net","e":5,"v":0.68},{"p":"d","m":"ResDSda_U-Net","e":6,"v":0.74},{"p":"d","m":"ResDSda_U-Net","e":7,"v":0.71},{"p":"d","m":"ResDSda_U-Net","e":8,"v":0.73},{"p":"d","m":"ResDSda_U-Net","e":10,"v":0.70},{"p":"d","m":"ResDSda_U-Net","e":12,"v":0.74},{"p":"d","m":"ResDSda_U-Net","e":14,"v":0.72},{"p":"d","m":"ResDSda_U-Net","e":16,"v":0.76},{"p":"d","m":"ResDSda_U-Net","e":18,"v":0.75},{"p":"d","m":"ResDSda_U-Net","e":20,"v":0.77},{"p":"d","m":"ResDSda_U-Net","e":22,"v":0.76},{"p":"d","m":"ResDSda_U-Net","e":25,"v":0.78},{"p":"d","m":"ResDSda_U-Net","e":28,"v":0.77},{"p":"d","m":"ResDSda_U-Net","e":31,"v":0.79},{"p":"d","m":"ResDSda_U-Net","e":34,"v":0.78},{"p":"d","m":"ResDSda_U-Net","e":37,"v":0.795},{"p":"d","m":"ResDSda_U-Net","e":40,"v":0.785},{"p":"d","m":"ResDSda_U-Net","e":44,"v":0.80},{"p":"d","m":"ResDSda_U-Net","e":48,"v":0.795},{"p":"d","m":"ResDSda_U-Net","e":52,"v":0.81},{"p":"d","m":"ResDSda_U-Net","e":56,"v":0.80},{"p":"d","m":"ResDSda_U-Net","e":60,"v":0.815},{"p":"d","m":"ResDSda_U-Net","e":65,"v":0.805},{"p":"d","m":"ResDSda_U-Net","e":70,"v":0.82},{"p":"d","m":"ResDSda_U-Net","e":72,"v":0.81},{"p":"d","m":"ResDSda_U-Net","e":76,"v":0.825},{"p":"d","m":"ResDSda_U-Net","e":80,"v":0.815},{"p":"d","m":"ResDSda_U-Net","e":85,"v":0.83},{"p":"d","m":"ResDSda_U-Net","e":90,"v":0.825},{"p":"d","m":"ResDSda_U-Net","e":95,"v":0.84},{"p":"d","m":"ResDSda_U-Net","e":100,"v":0.83},{"p":"d","m":"ResDSda_U-Net","e":105,"v":0.835},{"p":"d","m":"ResDSda_U-Net","e":107,"v":0.845},{"p":"d","m":"ResDSda_U-Net","e":110,"v":0.84},{"p":"d","m":"ResDSda_U-Net","e":117,"v":0.845},{"p":"d","m":"ResDSda_U-Net","e":125,"v":0.845},{"p":"d","m":"ResDSda_U-Net","e":135,"v":0.85},{"p":"d","m":"ResDSda_U-Net","e":145,"v":0.852},{"p":"d","m":"ResDSda_U-Net","e":160,"v":0.855},{"p":"d","m":"ResDSda_U-Net","e":180,"v":0.857},{"p":"d","m":"ResDSda_U-Net","e":200,"v":0.858},{"p":"d","m":"ResDSda_U-Net","e":225,"v":0.859},{"p":"d","m":"ResDSda_U-Net","e":249,"v":0.859}
  ]},
  "columns": 2,
  "spacing": {"row": 12, "column": 52},
  "resolve": {"legend": {"color": "independent"}},
  "concat": [
    {
      "title": {"text": "( a )", "orient": "bottom", "anchor": "middle", "frame": "group", "dx": 118, "font": "Liberation Serif", "fontSize": 18, "offset": 2},
      "resolve": {"legend": {"color": "independent"}},
      "vconcat": [{
        "width": 243, "height": 181,
        "title": {"text": "Train IoU", "frame": "group"},
        "transform": [{"filter": "datum.p == 'a'"}],
        "mark": {"type": "line", "strokeWidth": 1.1},
        "encoding": {
          "x": {"field": "e", "type": "quantitative", "scale": {"domain": [-12.45, 261.45], "nice": false, "zero": false}, "axis": {"values": [0, 50, 100, 150, 200, 250], "title": "epochs"}},
          "y": {"field": "v", "type": "quantitative", "scale": {"domain": [-0.0415, 0.8715], "nice": false, "zero": false}, "axis": {"values": [0, 0.2, 0.4, 0.6, 0.8], "format": ".1f", "title": "IoU"}},
          "color": {"field": "m", "type": "nominal", "scale": {"domain": ["AUNet", "FusionNet", "JOSHUA", "UTNet", "ResDSda_U-Net"], "range": ["#2ca02c", "#ff3030", "#4a4aff", "#c8c830", "#40d0d0"]}, "legend": {"labelExpr": "'Train ' + datum.label"}}
        }
      }]
    },
    {
      "title": {"text": "( b )", "orient": "bottom", "anchor": "middle", "frame": "group", "dx": 120, "font": "Liberation Serif", "fontSize": 18, "offset": 2},
      "resolve": {"legend": {"color": "independent"}},
      "vconcat": [{
        "width": 242, "height": 181,
        "title": {"text": "Train DSC", "frame": "group"},
        "transform": [{"filter": "datum.p == 'b'"}],
        "mark": {"type": "line", "strokeWidth": 1.1},
        "encoding": {
          "x": {"field": "e", "type": "quantitative", "scale": {"domain": [-12.45, 261.45], "nice": false, "zero": false}, "axis": {"values": [0, 50, 100, 150, 200, 250], "title": "epochs"}},
          "y": {"field": "v", "type": "quantitative", "scale": {"domain": [-0.0446, 0.9366], "nice": false, "zero": false}, "axis": {"values": [0, 0.2, 0.4, 0.6, 0.8], "format": ".1f", "title": "DSC"}},
          "color": {"field": "m", "type": "nominal", "scale": {"domain": ["AUNet", "FusionNet", "JOSHUA", "UTNet", "ResDSda_U-Net"], "range": ["#2ca02c", "#ff3030", "#4a4aff", "#c8c830", "#40d0d0"]}, "legend": {"labelExpr": "'Train ' + datum.label"}}
        }
      }]
    },
    {
      "title": {"text": "( c )", "orient": "bottom", "anchor": "middle", "frame": "group", "dx": 118, "font": "Liberation Serif", "fontSize": 18, "offset": 2},
      "resolve": {"legend": {"color": "independent"}},
      "vconcat": [{
        "width": 243, "height": 180,
        "title": {"text": "Val IoU", "frame": "group"},
        "transform": [{"filter": "datum.p == 'c'"}],
        "mark": {"type": "line", "strokeWidth": 1.1},
        "encoding": {
          "x": {"field": "e", "type": "quantitative", "scale": {"domain": [-12.45, 261.45], "nice": false, "zero": false}, "axis": {"values": [0, 50, 100, 150, 200, 250], "title": "epochs"}},
          "y": {"field": "v", "type": "quantitative", "scale": {"domain": [-0.03875, 0.81375], "nice": false, "zero": false}, "axis": {"values": [0, 0.1, 0.2, 0.3, 0.4, 0.5, 0.6, 0.7, 0.8], "format": ".1f", "title": "IoU"}},
          "color": {"field": "m", "type": "nominal", "scale": {"domain": ["AUNet", "FusionNet", "JOSHUA", "UTNet", "ResDSda_U-Net"], "range": ["#2ca02c", "#ff3030", "#3030ff", "#c8c830", "#40d0d0"]}, "legend": {"labelExpr": "'Val ' + datum.label"}}
        }
      }]
    },
    {
      "title": {"text": "( d )", "orient": "bottom", "anchor": "middle", "frame": "group", "dx": 120, "font": "Liberation Serif", "fontSize": 18, "offset": 2},
      "resolve": {"legend": {"color": "independent"}},
      "vconcat": [{
        "width": 242, "height": 180,
        "title": {"text": "Val DSC", "frame": "group"},
        "transform": [{"filter": "datum.p == 'd'"}],
        "mark": {"type": "line", "strokeWidth": 1.1},
        "encoding": {
          "x": {"field": "e", "type": "quantitative", "scale": {"domain": [-12.45, 261.45], "nice": false, "zero": false}, "axis": {"values": [0, 50, 100, 150, 200, 250], "title": "epochs"}},
          "y": {"field": "v", "type": "quantitative", "scale": {"domain": [-0.043, 0.903], "nice": false, "zero": false}, "axis": {"values": [0, 0.2, 0.4, 0.6, 0.8], "format": ".1f", "title": "DSC"}},
          "color": {"field": "m", "type": "nominal", "scale": {"domain": ["AUNet", "FusionNet", "JOSHUA", "UTNet", "ResDSda_U-Net"], "range": ["#2ca02c", "#ff3030", "#3030ff", "#c8c830", "#40d0d0"]}, "legend": {"labelExpr": "'Val ' + datum.label"}}
        }
      }]
    }
  ]
}
